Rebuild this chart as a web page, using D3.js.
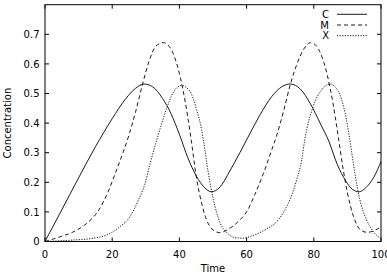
<!DOCTYPE html>
<html>
<head>
<meta charset="utf-8">
<script src="https://cdn.jsdelivr.net/npm/d3@7"></script>
<style>
  html, body { margin: 0; padding: 0; background: #fff; overflow: hidden; }
  svg { display: block; }
  text { font-family: "DejaVu Sans", sans-serif; font-size: 10px; fill: #000; }
</style>
</head>
<body>
<svg id="chart" width="387" height="278"></svg>
<script>
// values
const cTime = [0, 5, 10, 15, 20, 24, 27, 29.5, 32, 35, 37.5, 40, 42.5, 45, 47.5, 49.5, 52, 55, 58, 61, 64, 67.5, 70.5, 73, 76, 79, 82, 84.5, 87, 89.5, 91.5, 93.5, 95.5, 98, 100];
const cVal  = [0, 0.107, 0.215, 0.32, 0.415, 0.482, 0.518, 0.532, 0.523, 0.483, 0.432, 0.362, 0.283, 0.222, 0.182, 0.168, 0.183, 0.238, 0.3, 0.365, 0.428, 0.49, 0.523, 0.532, 0.515, 0.465, 0.397, 0.338, 0.26, 0.205, 0.176, 0.168, 0.182, 0.22, 0.27];

const mTime = [0, 4.5, 8.5, 12.5, 16, 19, 21.3, 23.3, 25, 27, 29, 31, 33, 35.2, 37.5, 39.5, 41, 42.5, 43.5, 45, 46, 47.7, 50, 52, 54.5, 58, 60, 62.5, 65, 67.5, 69, 71, 73, 75, 77, 79.2, 81.4, 83.4, 84.9, 86.4, 87.4, 88.8, 90, 91.8, 93.9, 95.9, 98.4, 100];
const mVal  = [0, 0.016, 0.033, 0.062, 0.106, 0.174, 0.242, 0.303, 0.36, 0.44, 0.53, 0.61, 0.66, 0.672, 0.65, 0.589, 0.516, 0.42, 0.345, 0.22, 0.16, 0.085, 0.039, 0.03, 0.041, 0.073, 0.1, 0.16, 0.23, 0.31, 0.36, 0.44, 0.53, 0.6, 0.65, 0.672, 0.65, 0.589, 0.516, 0.42, 0.345, 0.24, 0.165, 0.085, 0.039, 0.031, 0.039, 0.05];

const xTime = [0, 8.4, 14.4, 18.4, 22.3, 25.3, 27.8, 29.8, 31.3, 33.6, 36.1, 38.1, 40.6, 43.1, 45.1, 46.6, 47.1, 48.6, 50.1, 52.1, 54.1, 56.6, 59, 61, 65.4, 69.4, 72.4, 74.9, 76.4, 77.3, 79.8, 82.3, 84.8, 87.3, 89.3, 90.7, 92.2, 93.7, 95.7, 97.6, 99.6];
const xVal  = [0, 0.005, 0.011, 0.022, 0.05, 0.084, 0.14, 0.197, 0.264, 0.356, 0.446, 0.502, 0.527, 0.508, 0.446, 0.378, 0.345, 0.232, 0.142, 0.063, 0.03, 0.013, 0.011, 0.017, 0.039, 0.073, 0.129, 0.208, 0.275, 0.343, 0.456, 0.512, 0.532, 0.507, 0.435, 0.345, 0.232, 0.142, 0.073, 0.035, 0.013];

const seriesNames = ['C', 'M', 'X'];
const xTicks = [0, 20, 40, 60, 80, 100];
const yTicks = [0, 0.1, 0.2, 0.3, 0.4, 0.5, 0.6, 0.7];

const series = [
  { name: 'C', t: cTime, v: cVal, dash: null },
  { name: 'M', t: mTime, v: mVal, dash: '4,3' },
  { name: 'X', t: xTime, v: xVal, dash: '1.2,1.4' }
];

const pLeft = 45, pRight = 381, pTop = 4.7, pBottom = 241.5;

const x = d3.scaleLinear().domain([0, 100]).range([pLeft, pRight]);
const y = d3.scaleLinear().domain([0, 0.8]).range([pBottom, pTop]);

const svg = d3.select('#chart');

// ticks, mirrored on all four sides, pointing inward
const tl = 4;
svg.append('g').selectAll('line')
  .data(xTicks).enter().append('line')
  .attr('x1', d => x(d)).attr('x2', d => x(d))
  .attr('y1', pBottom).attr('y2', pBottom - tl)
  .attr('stroke', '#000');
svg.append('g').selectAll('line')
  .data(xTicks).enter().append('line')
  .attr('x1', d => x(d)).attr('x2', d => x(d))
  .attr('y1', pTop).attr('y2', pTop + tl)
  .attr('stroke', '#000');
svg.append('g').selectAll('line')
  .data(yTicks).enter().append('line')
  .attr('x1', pLeft).attr('x2', pLeft + tl)
  .attr('y1', d => y(d)).attr('y2', d => y(d))
  .attr('stroke', '#000');
svg.append('g').selectAll('line')
  .data(yTicks).enter().append('line')
  .attr('x1', pRight).attr('x2', pRight - tl)
  .attr('y1', d => y(d)).attr('y2', d => y(d))
  .attr('stroke', '#000');

// frame
svg.append('rect')
  .attr('x', pLeft).attr('y', pTop)
  .attr('width', pRight - pLeft).attr('height', pBottom - pTop)
  .attr('fill', 'none').attr('stroke', '#000').attr('stroke-width', 1);

// tick labels
svg.selectAll('text.xl')
  .data(xTicks).enter().append('text')
  .attr('class', 'xl')
  .attr('x', d => x(d)).attr('y', 257.5)
  .attr('text-anchor', 'middle')
  .text(d => d);
svg.selectAll('text.yl')
  .data(yTicks).enter().append('text')
  .attr('class', 'yl')
  .attr('x', 39.5).attr('y', d => y(d) + 3.7)
  .attr('text-anchor', 'end')
  .text(d => d === 0 ? '0' : d3.format('.1f')(d));

// axis titles
svg.append('text')
  .attr('x', (pLeft + pRight) / 2).attr('y', 272)
  .attr('text-anchor', 'middle')
  .text('Time');
svg.append('text')
  .attr('transform', `translate(10.5,${(pTop + pBottom) / 2}) rotate(-90)`)
  .attr('text-anchor', 'middle')
  .text('Concentration');

// curves
const line = d3.line()
  .curve(d3.curveMonotoneX)
  .x(d => x(d[0]))
  .y(d => y(d[1]));

svg.append('g').selectAll('path')
  .data(series).enter().append('path')
  .attr('d', s => line(s.t.map((t, i) => [t, s.v[i]])))
  .attr('fill', 'none')
  .attr('stroke', '#000')
  .attr('stroke-width', 0.9)
  .attr('stroke-dasharray', s => s.dash);

// key
const key = svg.append('g');
series.forEach((s, i) => {
  const ky = 14.3 + i * 10.7;
  key.append('text')
    .attr('x', 329).attr('y', ky + 3.7)
    .attr('text-anchor', 'end')
    .text(seriesNames[i]);
  key.append('line')
    .attr('x1', 337).attr('x2', 367)
    .attr('y1', ky).attr('y2', ky)
    .attr('stroke', '#000')
    .attr('stroke-width', 0.9)
    .attr('stroke-dasharray', s.dash);
});
</script>
</body>
</html>
